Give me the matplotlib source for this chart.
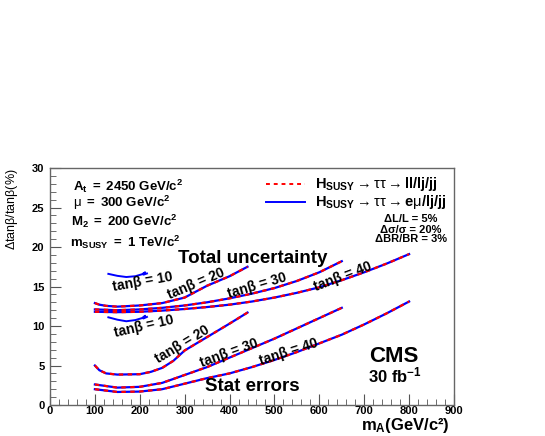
import numpy as np
import matplotlib
matplotlib.use("Agg")
import matplotlib.pyplot as plt
from matplotlib.ticker import MultipleLocator

plt.rcParams['font.family'] = ['Liberation Sans', 'DejaVu Sans']
plt.rcParams['mathtext.fontset'] = 'custom'
plt.rcParams['mathtext.rm'] = 'Liberation Sans'
plt.rcParams['mathtext.it'] = 'Liberation Sans:italic'
plt.rcParams['mathtext.bf'] = 'Liberation Sans:bold'

# m_A points (GeV/c^2) and delta tan(beta)/tan(beta) in %
mA_tb20 = [100, 110, 125, 150, 200, 250, 300, 350, 400, 440]
tot_tb20 = [12.9, 12.7, 12.55, 12.45, 12.6, 12.9, 13.6, 15.1, 16.3, 17.5]
mA_tb20s = [100, 110, 125, 150, 200, 225, 250, 275, 300, 350, 400, 440]
stat_tb20 = [5.0, 4.4, 4.0, 3.85, 3.9, 4.2, 4.7, 5.6, 6.9, 8.6, 10.3, 11.7]

mA_tb30 = [100, 150, 200, 250, 300, 350, 400, 450, 500, 550, 600, 650]
tot_tb30 = [12.1, 12.0, 12.1, 12.3, 12.6, 13.0, 13.5, 14.1, 14.8, 15.7, 16.8, 18.2]
stat_tb30 = [2.6, 2.2, 2.3, 2.8, 3.8, 4.8, 6.0, 7.2, 8.4, 9.7, 11.0, 12.3]

mA_tb40 = [100, 150, 200, 250, 300, 350, 400, 450, 500, 550, 600, 650, 700, 750, 800]
tot_tb40 = [11.8, 11.75, 11.8, 11.95, 12.15, 12.4, 12.7, 13.1, 13.6, 14.2, 14.9, 15.8, 16.8, 17.9, 19.1]
stat_tb40 = [2.0, 1.65, 1.7, 2.0, 2.7, 3.4, 4.0, 4.8, 5.7, 6.7, 7.8, 8.9, 10.2, 11.6, 13.1]

# tan(beta)=10 only short arcs (e mu channel)
mA_tb10 = [130, 150, 170, 190, 205, 212, 208, 216]
tot_tb10 = [16.6, 16.35, 16.2, 16.3, 16.55, 16.8, 16.5, 16.65]
stat_tb10 = [11.1, 10.8, 10.6, 10.75, 11.0, 11.3, 10.95, 11.15]

fig = plt.figure(figsize=(5.45, 4.36), dpi=100)
ax = fig.add_axes([50/545, 1-405/436, 404/545, 237/436])

blue = '#0000ff'
red = '#ff0000'
for x, y in [(mA_tb20, tot_tb20), (mA_tb20s, stat_tb20), (mA_tb30, tot_tb30),
             (mA_tb30, stat_tb30), (mA_tb40, tot_tb40), (mA_tb40, stat_tb40)]:
    ax.plot(x, y, color=blue, lw=1.6)
    ax.plot(x, y, color=red, lw=1.6, dashes=(2, 2))
ax.plot(mA_tb10, tot_tb10, color=blue, lw=1.4)
ax.plot(mA_tb10, stat_tb10, color=blue, lw=1.4)

ax.set_xlim(0, 900)
ax.set_ylim(0, 30)
ax.xaxis.set_major_locator(MultipleLocator(100))
ax.xaxis.set_minor_locator(MultipleLocator(20))
ax.yaxis.set_major_locator(MultipleLocator(5))
ax.yaxis.set_minor_locator(MultipleLocator(1))
ax.tick_params(which='both', direction='in', top=False, right=False, color='#555555')
ax.tick_params(which='major', length=8, labelsize=8, pad=4)
ax.tick_params(axis='x', which='major', pad=1)
ax.tick_params(which='minor', length=4)
for lab in ax.get_xticklabels() + ax.get_yticklabels():
    lab.set_fontweight('bold')
for s in ax.spines.values():
    s.set_color('#666666')
    s.set_linewidth(1)

ax.text(0.99, -0.127, r'm$\mathbf{_A}$(GeV/c²)', transform=ax.transAxes,
        ha='right', va='bottom', fontsize=12, fontweight='bold')
ax.text(-0.094, 1.0, r'$\mathrm{\Delta tan\beta/tan\beta(\%)}$', transform=ax.transAxes,
        ha='center', va='top', rotation=90, fontsize=9)

# parameter block
par = dict(fontsize=9.5, ha='left', va='center')
ax.text(51, 27.7, r'$\mathbf{A_t\ =\ 2450\ GeV/c^2}$', **par)
ax.text(51, 25.6, r'$\mathrm{\mu}\mathbf{\ =\ 300\ GeV/c^2}$', **par)
ax.text(47, 23.2, r'$\mathbf{M_2\ =\ 200\ GeV/c^2}$', **par)
ax.text(45, 20.6, r'$\mathbf{m_{SUSY}\ =\ 1\ TeV/c^2}$', **par)

# legend
ax.plot([481, 568], [28.0, 28.0], color=red, lw=1.4, dashes=(2, 2))
ax.plot([481, 568], [25.7, 25.7], color=blue, lw=1.4)
leg = dict(fontsize=10.5, ha='left', va='center')
ax.text(590, 28.0, r'$\mathbf{H_{SUSY}}\rightarrow\mathrm{\tau\tau}\rightarrow\mathbf{ll/lj/jj}$', **leg)
ax.text(590, 25.7, r'$\mathbf{H_{SUSY}}\rightarrow\mathrm{\tau\tau}\rightarrow\mathbf{e}\mathrm{\mu}\mathbf{/lj/jj}$', **leg)
small = dict(fontsize=8, ha='center', va='center', fontweight='bold')
ax.text(804, 23.5, 'ΔL/L = 5%', **small)
ax.text(804, 22.1, 'Δσ/σ = 20%', **small)
ax.text(804, 21.0, 'ΔBR/BR = 3%', **small)

ax.text(452, 18.6, 'Total uncertainty', fontsize=13.5, fontweight='bold', ha='center', va='center')
ax.text(450, 2.4, 'Stat errors', fontsize=13.5, fontweight='bold', ha='center', va='center')
ax.text(766, 6.1, 'CMS', fontsize=16, fontweight='bold', ha='center', va='center')
ax.text(768, 3.7, r'$\mathbf{30\ fb^{-1}}$', fontsize=12, ha='center', va='center')

# curve labels
lab = dict(fontsize=10, fontweight='bold', ha='center', va='center', rotation_mode='anchor')
for x, y, t, r in [(207, 15.6, '10', 10), (325, 15.3, '20', 23), (461, 15.1, '30', 16.5),
                   (653, 16.2, '40', 21), (209, 10.0, '10', 13), (294, 7.7, '20', 31),
                   (399, 6.6, '30', 20), (532, 6.7, '40', 18)]:
    ax.text(x, y, 'tanβ = ' + t, rotation=r, **lab)

fig.savefig('out.png', dpi=100)
